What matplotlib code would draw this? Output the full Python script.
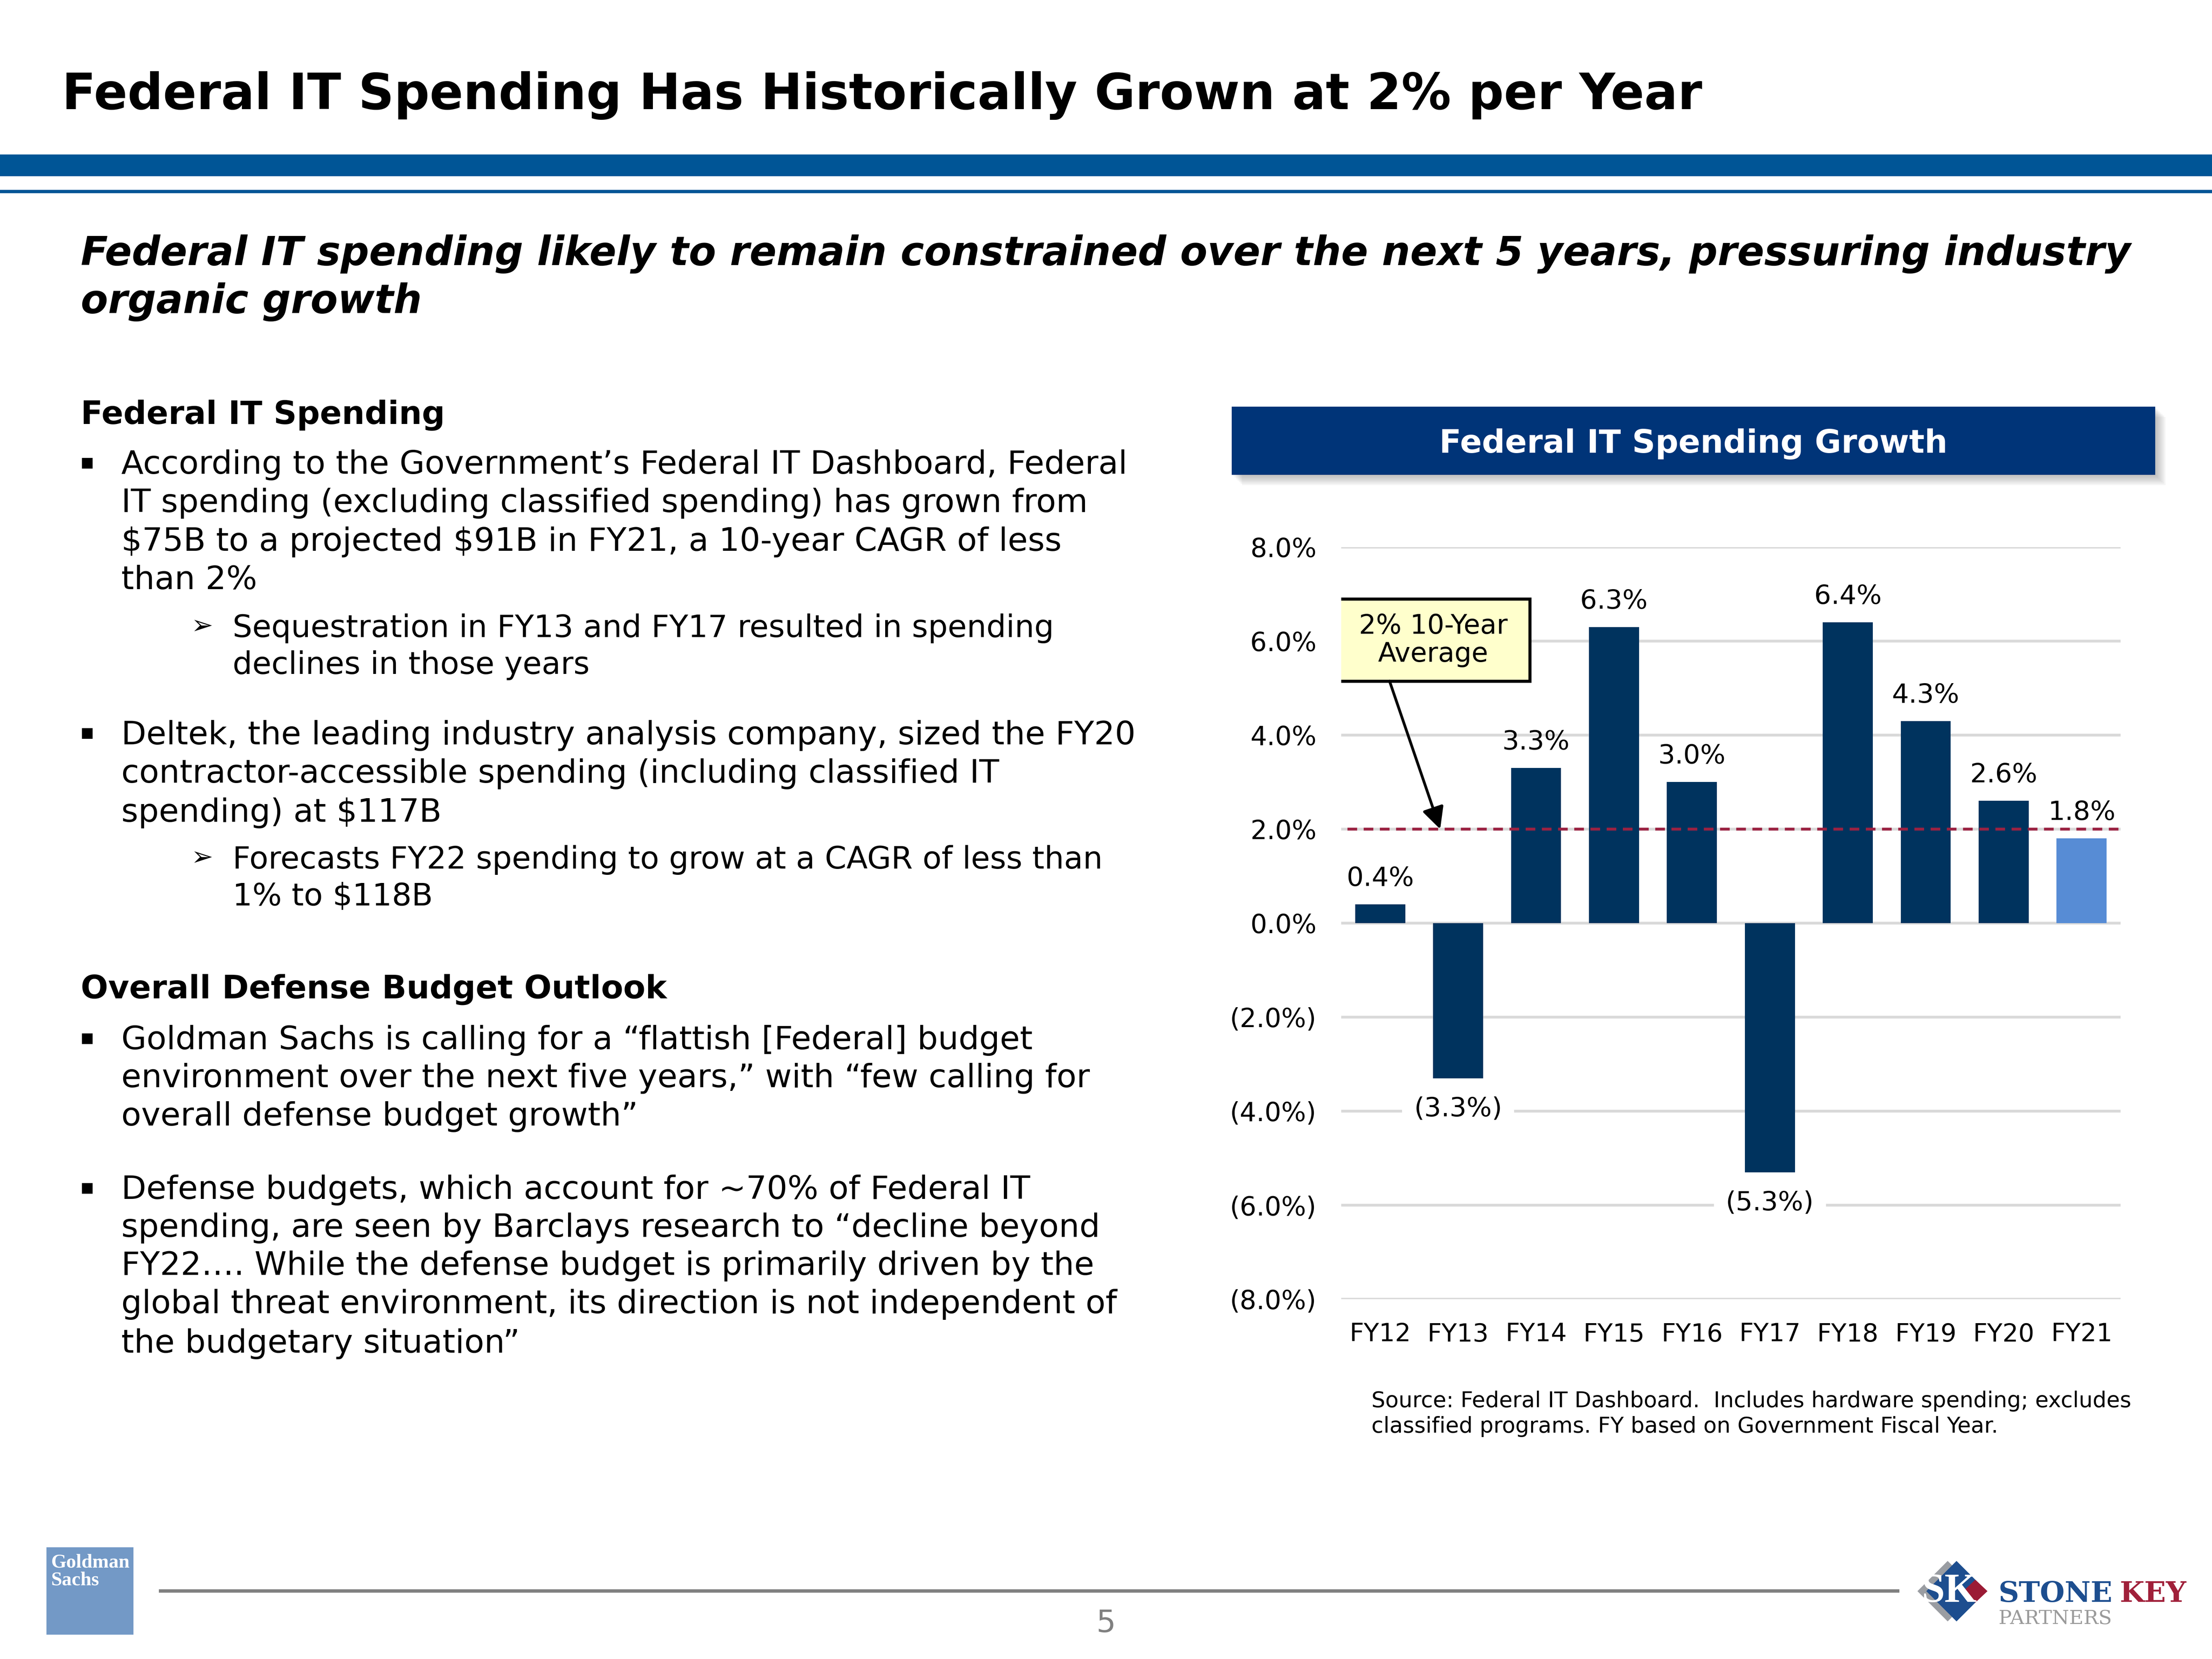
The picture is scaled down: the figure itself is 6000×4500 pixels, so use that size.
import matplotlib
matplotlib.use("Agg")
import matplotlib.pyplot as plt
from matplotlib.patches import Rectangle, Polygon
from matplotlib.lines import Line2D

plt.rcParams['font.family'] = ['DejaVu Sans']
plt.rcParams['text.parse_math'] = False

# =========================
# DATA
# =========================
years = ['FY12', 'FY13', 'FY14', 'FY15', 'FY16', 'FY17', 'FY18', 'FY19', 'FY20', 'FY21']
growth = [0.4, -3.3, 3.3, 6.3, 3.0, -5.3, 6.4, 4.3, 2.6, 1.8]
projected = [False] * 9 + [True]
avg_growth = 2.0
y_ticks = [8, 6, 4, 2, 0, -2, -4, -6, -8]

title = "Federal IT Spending Has Historically Grown at 2% per Year"
subtitle = ["Federal IT spending likely to remain constrained over the next 5 years, pressuring industry",
            "organic growth"]

# (kind, text, baseline y in px of the 6000x4500 page)
body = [
    ('head', "Federal IT Spending", 1150),
    ('b1', "According to the Government’s Federal IT Dashboard, Federal", 1285),
    ('t1', "IT spending (excluding classified spending) has grown from", 1389),
    ('t1', "$75B to a projected $91B in FY21, a 10-year CAGR of less", 1494),
    ('t1', "than 2%", 1598),
    ('b2', "Sequestration in FY13 and FY17 resulted in spending", 1728),
    ('t2', "declines in those years", 1828),
    ('b1', "Deltek, the leading industry analysis company, sized the FY20", 2019),
    ('t1', "contractor-accessible spending (including classified IT", 2123),
    ('t1', "spending) at $117B", 2229),
    ('b2', "Forecasts FY22 spending to grow at a CAGR of less than", 2356),
    ('t2', "1% to $118B", 2456),
    ('head', "Overall Defense Budget Outlook", 2707),
    ('b1', "Goldman Sachs is calling for a “flattish [Federal] budget", 2846),
    ('t1', "environment over the next five years,” with “few calling for", 2949),
    ('t1', "overall defense budget growth”", 3053),
    ('b1', "Defense budgets, which account for ~70% of Federal IT", 3252),
    ('t1', "spending, are seen by Barclays research to “decline beyond", 3355),
    ('t1', "FY22…. While the defense budget is primarily driven by the", 3458),
    ('t1', "global threat environment, its direction is not independent of", 3562),
    ('t1', "the budgetary situation”", 3669),
]

source = ["Source: Federal IT Dashboard.  Includes hardware spending; excludes",
          "classified programs. FY based on Government Fiscal Year."]

# =========================
# PAGE
# =========================
W, H = 6000, 4500


def fx(x):
    return x / W


def fy(y):
    return 1 - y / H


fig = plt.figure(figsize=(20, 15), dpi=300)
fig.patch.set_facecolor('white')

fig.text(fx(168), fy(296), title, fontsize=32.3, fontweight='bold', va='baseline')

# header bars
fig.add_artist(Rectangle((0, fy(478)), 1, (478 - 419) / H, transform=fig.transFigure,
                         fc='#005596', ec='none'))
fig.add_artist(Rectangle((0, fy(524)), 1, (524 - 515) / H, transform=fig.transFigure,
                         fc='#005596', ec='none'))

fig.text(fx(219), fy(719), subtitle[0], fontsize=25.9, fontweight='bold', style='italic', va='baseline')
fig.text(fx(219), fy(849), subtitle[1], fontsize=25.9, fontweight='bold', style='italic', va='baseline')

# left column text
for kind, txt, yb in body:
    if kind == 'head':
        fig.text(fx(219), fy(yb), txt, fontsize=21, fontweight='bold', va='baseline')
    elif kind in ('b1', 't1'):
        if kind == 'b1':
            fig.text(fx(237), fy(yb - 30), "▪", fontsize=14, ha='center', va='center')
        fig.text(fx(329), fy(yb), txt, fontsize=21.2, va='baseline')
    else:
        if kind == 'b2':
            fig.text(fx(548), fy(yb - 28), "➢", fontsize=17, ha='center', va='center')
        fig.text(fx(631), fy(yb), txt, fontsize=20.2, va='baseline')

# =========================
# CHART TITLE BOX
# =========================
for k in range(1, 8):
    fig.add_artist(Rectangle((fx(3341 + 4 * k), fy(1288 + 4 * k)), (5846 - 3341) / W, (1288 - 1103) / H,
                             transform=fig.transFigure, fc='#555555', ec='none', alpha=0.06))
fig.add_artist(Rectangle((fx(3341), fy(1288)), (5846 - 3341) / W, (1288 - 1103) / H,
                         transform=fig.transFigure, fc='#003478', ec='none'))
fig.text(fx(4593), fy(1204), "Federal IT Spending Growth", fontsize=21, fontweight='bold',
         color='white', ha='center', va='center')

# =========================
# BAR CHART
# =========================
ax = fig.add_axes([fx(3638), fy(3524), (5752 - 3638) / W, (3524 - 1484) / H])
ax.set_xlim(-0.5, len(years) - 0.5)
ax.set_ylim(-8, 8)
for s in ax.spines.values():
    s.set_visible(False)

for t in y_ticks:
    ax.axhline(t, color='#D9D9D9', lw=1.8, zorder=1)

colors = ['#578CD5' if p else '#00335E' for p in projected]
ax.bar(range(len(years)), growth, width=0.643, color=colors, zorder=3)

ax.axhline(avg_growth, xmin=0.008, color='#9B2242', lw=1.85, ls=(0, (3.4, 2.3)), zorder=4)

ax.set_xticks(range(len(years)))
ax.set_xticklabels(years, fontsize=16.3)
ax.set_yticks(y_ticks)
ax.set_yticklabels([f"{t:.1f}%" if t >= 0 else f"({-t:.1f}%)" for t in y_ticks], fontsize=17)
ax.tick_params(axis='both', length=0)
ax.tick_params(axis='x', pad=15)
ax.tick_params(axis='y', pad=16)

for i, v in enumerate(growth):
    if v >= 0:
        ax.annotate(f"{v:.1f}%", (i, v), xytext=(0, 12), textcoords='offset points',
                    ha='center', va='baseline', fontsize=17.3, zorder=5)
    else:
        ax.annotate(f"({-v:.1f}%)", (i, v), xytext=(0, -20), textcoords='offset points',
                    ha='center', va='center', fontsize=17.3, zorder=5,
                    bbox=dict(boxstyle='square,pad=0.45', fc='white', ec='none'))

# average callout
box_x, box_y, box_w, box_h = 0.68, 6.02, 2.48, 1.75
ax.add_patch(Rectangle((box_x - box_w / 2, box_y - box_h / 2), box_w, box_h,
                       fc='#FFFFCC', ec='black', lw=2, zorder=6))
ax.text(box_x, box_y, "2% 10-Year\nAverage", ha='center', va='center', fontsize=17.5,
        linespacing=1.1, zorder=7)
ax.annotate('', xy=(0.77, avg_growth), xytext=(0.12, 5.15),
            arrowprops=dict(arrowstyle='-|>', color='black', lw=1.8, mutation_scale=30,
                            shrinkA=0, shrinkB=0), zorder=6)

fig.text(fx(3720), fy(3817), source[0], fontsize=14.2, va='baseline')
fig.text(fx(3720), fy(3886), source[1], fontsize=14.2, va='baseline')

# =========================
# FOOTER
# =========================
fig.add_artist(Line2D([fx(435), fx(5147)], [fy(4315), fy(4315)], transform=fig.transFigure,
                      color='#808080', lw=2.2))
fig.text(fx(3000), fy(4403), "5", fontsize=20, color='#808080', ha='center', va='center')

# Goldman Sachs logo
fig.add_artist(Rectangle((fx(126), fy(4434)), (362 - 126) / W, (4434 - 4197) / H,
                         transform=fig.transFigure, fc='#7399C6', ec='none'))
fig.text(fx(138), fy(4252), "Goldman", fontsize=12.8, fontweight='bold', family='Liberation Serif',
         color='white', va='baseline')
fig.text(fx(138), fy(4299), "Sachs", fontsize=12.8, fontweight='bold', family='Liberation Serif',
         color='white', va='baseline')


# Stone Key logo
def diamond(cx, cy, hw, hh, color):
    pts = [(fx(cx), fy(cy - hh)), (fx(cx + hw), fy(cy)), (fx(cx), fy(cy + hh)), (fx(cx - hw), fy(cy))]
    fig.add_artist(Polygon(pts, closed=True, transform=fig.transFigure, fc=color, ec='none'))


diamond(5283, 4316, 82, 82, '#9A9DA2')
diamond(5307, 4316, 82, 82, '#1D4E8F')
diamond(5358, 4316, 33, 31, '#9B1B35')
fig.text(fx(5287), fy(4318), "SK", fontsize=27, fontweight='bold', family='Liberation Serif',
         color='white', ha='center', va='center')
fig.text(fx(5421), fy(4345), "STONE", fontsize=18.5, fontweight='bold', family='DejaVu Serif',
         color='#1D4E8F', va='baseline')
fig.text(fx(5749), fy(4345), "KEY", fontsize=18.5, fontweight='bold', family='DejaVu Serif',
         color='#A0203A', va='baseline')
fig.text(fx(5421), fy(4405), "PARTNERS", fontsize=12.8, family='DejaVu Serif',
         color='#9A9A9A', va='baseline')

fig.savefig('out.png', dpi=300)
